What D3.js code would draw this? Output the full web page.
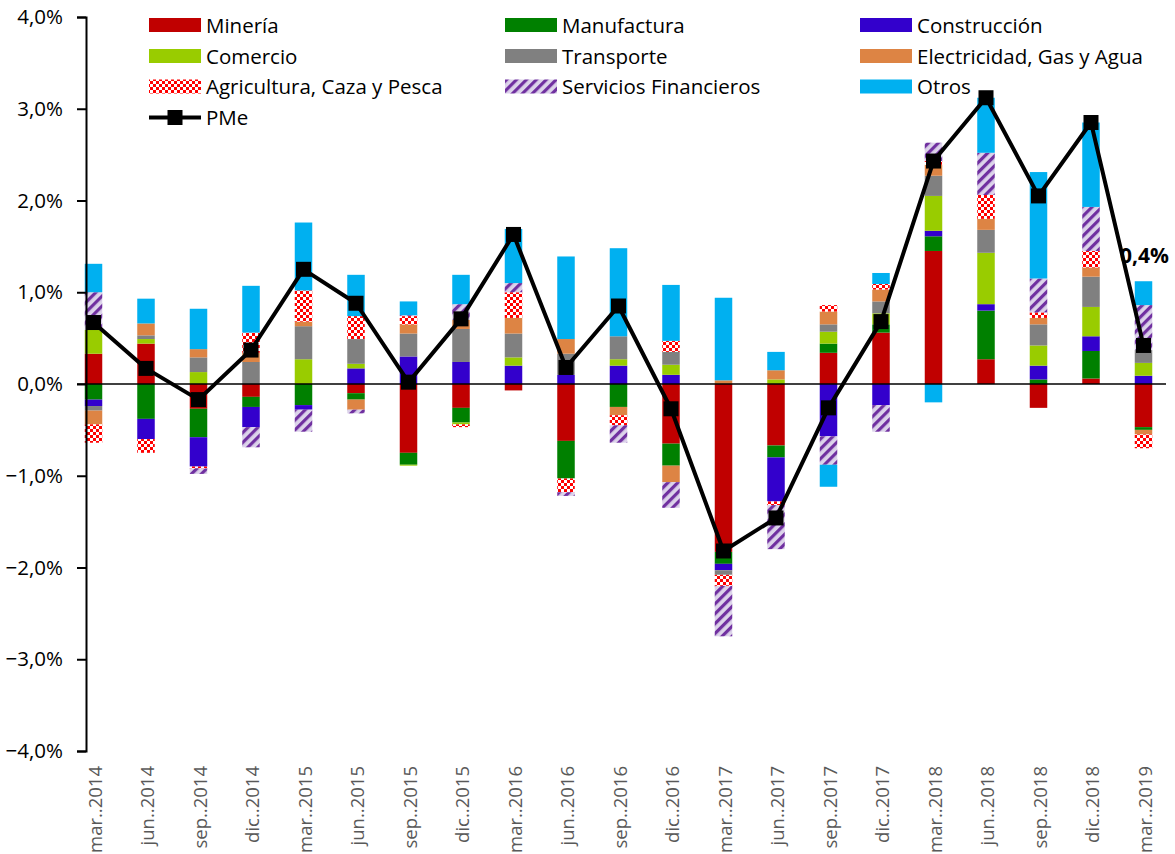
<!DOCTYPE html>
<html>
<head>
<meta charset="utf-8">
<script src="https://cdn.jsdelivr.net/npm/d3@7"></script>
<style>
  html, body { margin: 0; padding: 0; background: #fff; }
  svg { display: block; font-family: "Open Sans", "DejaVu Sans", sans-serif; }
</style>
</head>
<body>
<svg id="chart" width="1175" height="854"></svg>
<script>
// Quarterly contributions to PMe growth, in percentage points
const quarters = ["mar..2014","jun..2014","sep..2014","dic..2014","mar..2015","jun..2015","sep..2015","dic..2015",
  "mar..2016","jun..2016","sep..2016","dic..2016","mar..2017","jun..2017","sep..2017","dic..2017",
  "mar..2018","jun..2018","sep..2018","dic..2018","mar..2019"];

const mineria      = [0.33, 0.44, -0.27, -0.14, 0.00, -0.10, -0.75, -0.26, -0.07, -0.62, 0.00, -0.65, -1.83, -0.67, 0.34, 0.56, 1.45, 0.27, -0.26, 0.06, -0.47];
const manufactura  = [-0.17, -0.38, -0.31, -0.11, -0.23, -0.07, -0.13, -0.16, 0.00, -0.41, -0.25, -0.24, -0.13, -0.13, 0.10, 0.09, 0.16, 0.53, 0.05, 0.30, -0.03];
const construccion = [-0.07, -0.22, -0.32, -0.22, -0.05, 0.17, 0.30, 0.24, 0.20, 0.10, 0.20, 0.10, -0.07, -0.48, -0.57, -0.23, 0.06, 0.07, 0.15, 0.16, 0.09];
const comercio     = [0.26, 0.05, 0.13, 0.00, 0.27, 0.05, -0.01, -0.02, 0.09, 0.00, 0.07, 0.11, 0.00, 0.05, 0.13, 0.12, 0.38, 0.56, 0.22, 0.32, 0.14];
const transporte   = [-0.05, 0.04, 0.16, 0.24, 0.36, 0.27, 0.25, 0.36, 0.26, 0.23, 0.25, 0.14, -0.05, 0.00, 0.08, 0.13, 0.22, 0.25, 0.23, 0.33, 0.14];
const electricidad = [-0.15, 0.13, 0.09, 0.10, 0.05, -0.11, 0.10, 0.10, 0.17, 0.16, -0.09, -0.18, 0.04, 0.10, 0.14, 0.13, 0.12, 0.12, 0.07, 0.10, -0.05];
const agricultura  = [-0.20, -0.15, -0.02, 0.22, 0.34, 0.25, 0.09, -0.03, 0.28, -0.15, -0.11, 0.12, -0.12, -0.04, 0.07, 0.06, 0.04, 0.26, 0.06, 0.18, -0.15];
const financieros  = [0.41, 0.00, -0.06, -0.22, -0.24, -0.04, 0.01, 0.17, 0.10, -0.04, -0.19, -0.28, -0.55, -0.48, -0.31, -0.29, 0.20, 0.46, 0.37, 0.48, 0.49];
const otros        = [0.31, 0.27, 0.44, 0.51, 0.74, 0.45, 0.15, 0.32, 0.59, 0.90, 0.96, 0.61, 0.90, 0.20, -0.24, 0.12, -0.20, 0.60, 1.16, 0.92, 0.26];

const pme = [0.67, 0.17, -0.17, 0.37, 1.25, 0.88, 0.02, 0.71, 1.63, 0.18, 0.85, -0.27, -1.82, -1.46, -0.26, 0.68, 2.43, 3.12, 2.05, 2.85, 0.42];

const yTicks = [-4, -3, -2, -1, 0, 1, 2, 3, 4];

const sectors = [
  { key: "Minería", values: mineria, fill: "#C00000" },
  { key: "Manufactura", values: manufactura, fill: "#008000" },
  { key: "Construcción", values: construccion, fill: "#3300CC" },
  { key: "Comercio", values: comercio, fill: "#99CC00" },
  { key: "Transporte", values: transporte, fill: "#808080" },
  { key: "Electricidad, Gas y Agua", values: electricidad, fill: "#DD8444" },
  { key: "Agricultura, Caza y Pesca", values: agricultura, fill: "url(#checker)" },
  { key: "Servicios Financieros", values: financieros, fill: "url(#stripes)" },
  { key: "Otros", values: otros, fill: "#00B0F0" }
];

const svg = d3.select("#chart");
const fmtPct = d => d3.format(".1f")(d).replace(".", ",") + "%";

// fill patterns
const defs = svg.append("defs");
const chk = defs.append("pattern").attr("id", "checker").attr("patternUnits", "userSpaceOnUse")
  .attr("width", 6).attr("height", 6);
chk.append("rect").attr("width", 6).attr("height", 6).attr("fill", "#FF0000");
chk.append("rect").attr("x", 0).attr("y", 0).attr("width", 3).attr("height", 3).attr("fill", "#fff");
chk.append("rect").attr("x", 3).attr("y", 3).attr("width", 3).attr("height", 3).attr("fill", "#fff");

const str = defs.append("pattern").attr("id", "stripes").attr("patternUnits", "userSpaceOnUse")
  .attr("width", 7).attr("height", 7).attr("patternTransform", "rotate(45)");
str.append("rect").attr("width", 7).attr("height", 7).attr("fill", "#DCD3EA");
str.append("rect").attr("x", 0).attr("width", 3.2).attr("height", 7).attr("fill", "#7030A0");

// scales
const x = d3.scaleBand().domain(quarters).range([67.25, 1169.75]).paddingInner(0).paddingOuter(0);
const cx = q => x(q) + x.bandwidth() / 2;
const barW = x.bandwidth() / 3;
const y = d3.scaleLinear().domain([-4, 4]).range([751, 17]);

// stacked contributions
const rows = quarters.map((q, i) => {
  const r = { q };
  sectors.forEach(s => { r[s.key] = s.values[i]; });
  return r;
});
const series = d3.stack().keys(sectors.map(s => s.key)).offset(d3.stackOffsetDiverging)(rows);

const bars = svg.append("g");
series.forEach((layer, li) => {
  bars.append("g").attr("fill", sectors[li].fill)
    .selectAll("rect").data(layer).join("rect")
    .attr("x", d => cx(d.data.q) - barW / 2)
    .attr("width", barW)
    .attr("y", d => y(Math.max(d[0], d[1])))
    .attr("height", d => Math.abs(y(d[0]) - y(d[1])));
});

// zero line
svg.append("line")
  .attr("x1", 77).attr("x2", 1166)
  .attr("y1", y(0)).attr("y2", y(0))
  .attr("stroke", "#000").attr("stroke-width", 1.5);

// y axis
const yAxis = svg.append("g").attr("transform", "translate(86,0)")
  .call(d3.axisLeft(y).tickValues(yTicks).tickSize(9).tickPadding(14).tickFormat(fmtPct));
yAxis.select(".domain").attr("stroke", "#000").attr("stroke-width", 2);
yAxis.selectAll(".tick line").attr("stroke", "#000").attr("stroke-width", 2);
yAxis.selectAll(".tick text").attr("fill", "#000").style("font-size", "20.5px").style("font-family", "\"Open Sans\", sans-serif");

// category labels
const xAxis = svg.append("g").attr("transform", "translate(0,766)")
  .call(d3.axisBottom(x).tickSize(0).tickPadding(0).tickFormat(d => d).tickValues(quarters));
xAxis.select(".domain").remove();
xAxis.selectAll(".tick text")
  .attr("transform", "rotate(-90)")
  .attr("x", 0).attr("y", 0).attr("dy", "0.45em")
  .attr("text-anchor", "end")
  .attr("fill", "#595959")
  .style("font-size", "18.5px")
  .style("font-family", "\"Open Sans\", sans-serif");

// PMe line with square markers
const line = d3.line().x((d, i) => cx(quarters[i])).y(d => y(d));
svg.append("path").datum(pme).attr("d", line)
  .attr("fill", "none").attr("stroke", "#000").attr("stroke-width", 4).attr("stroke-linejoin", "round");
const mk = 15;
svg.append("g").selectAll("rect").data(pme).join("rect")
  .attr("x", (d, i) => cx(quarters[i]) - mk / 2)
  .attr("y", d => y(d) - mk / 2)
  .attr("width", mk).attr("height", mk).attr("fill", "#000");

// last value label, above the final bar
const lastIdx = pme.length - 1;
const topVal = d3.max(series, s => Math.max(s[lastIdx][0], s[lastIdx][1]));
svg.append("text")
  .attr("x", cx(quarters[lastIdx]) + 1)
  .attr("y", y(topVal) - 18)
  .attr("text-anchor", "middle")
  .attr("font-weight", "bold")
  .style("font-size", "21px")
  .attr("fill", "#000")
  .text(fmtPct(pme[lastIdx]));

// legend
const legCols = [149, 505, 860];
const legRows = [25, 56, 86.5];
const leg = svg.append("g").style("font-size", "20.5px");
sectors.forEach((s, i) => {
  const lx = legCols[i % 3], ly = legRows[Math.floor(i / 3)];
  leg.append("rect").attr("x", lx).attr("y", ly - 7).attr("width", 52).attr("height", 14).attr("fill", s.fill);
  leg.append("text").attr("x", lx + 57).attr("y", ly + 7.5).attr("fill", "#000").text(s.key);
});
const pmeY = 117.5;
leg.append("line").attr("x1", 149).attr("x2", 201).attr("y1", pmeY).attr("y2", pmeY)
  .attr("stroke", "#000").attr("stroke-width", 4);
leg.append("rect").attr("x", 175 - mk / 2).attr("y", pmeY - mk / 2).attr("width", mk).attr("height", mk).attr("fill", "#000");
leg.append("text").attr("x", 206).attr("y", pmeY + 7.5).attr("fill", "#000").text("PMe");
</script>
</body>
</html>
